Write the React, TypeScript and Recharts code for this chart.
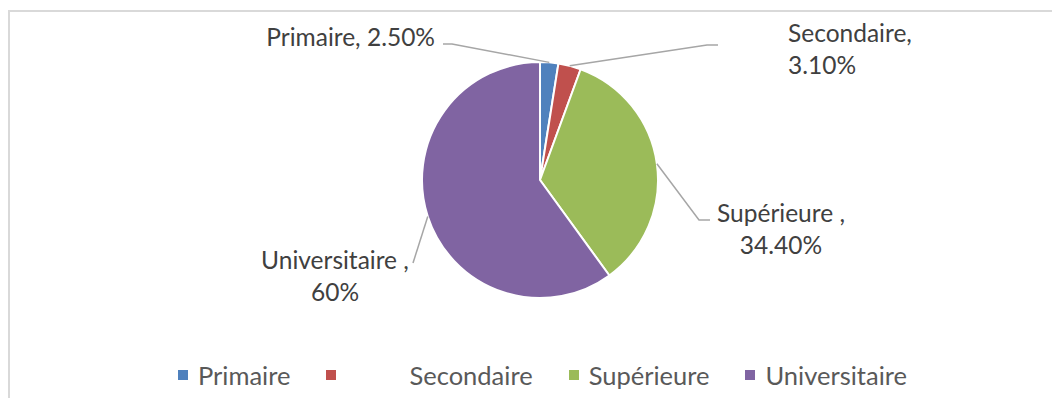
import React from 'react';
import { PieChart, Pie, Cell, Legend } from 'recharts';

const categories = ['Primaire', 'Secondaire', 'Supérieure', 'Universitaire'];
const shares = [2.5, 3.1, 34.4, 60];
const shareLabels = ['2.50%', '3.10%', '34.40%', '60%'];
const colors = ['#4F81BD', '#C0504D', '#9BBB59', '#8064A2'];

const data = categories.map((name, i) => ({ name, value: shares[i] }));

const FONT = 'Lato, "Liberation Sans", sans-serif';
const W = 1048;
const H = 388;
const RAD = Math.PI / 180;
const LINE_H = 31.6;

// where each data label sits (chart coords), Excel-style manual placement
const labelLayout = [
  { elbow: [442, 32], end: [433, 32], x: 425, y: 34, anchor: 'end', lines: (n: string, p: string) => [`${n}, ${p}`] },
  { elbow: [697, 33], end: [708, 33], x: 778, y: 30, anchor: 'start', lines: (n: string, p: string) => [`${n},`, p] },
  { elbow: [689, 208], end: [700, 208], x: 771, y: 210, anchor: 'middle', lines: (n: string, p: string) => [`${n} ,`, p] },
  { elbow: null, end: [403, 251], x: 325, y: 257, anchor: 'middle', lines: (n: string, p: string) => [`${n} ,`, p] },
];

const renderLabel = (props: any) => {
  const { cx, cy, midAngle, outerRadius, index } = props;
  const l = labelLayout[index];
  const sx = cx + outerRadius * Math.cos(-midAngle * RAD);
  const sy = cy + outerRadius * Math.sin(-midAngle * RAD);
  const pts = [[sx, sy], ...(l.elbow ? [l.elbow] : []), l.end];
  const texts = l.lines(categories[index], shareLabels[index]);
  return (
    <g key={`lbl-${index}`}>
      <polyline points={pts.map((p) => p.join(',')).join(' ')} fill="none" stroke="#a6a6a6" strokeWidth={1.5} />
      <text x={l.x} y={l.y} textAnchor={l.anchor} fill="#404040" fontSize={24.5} fontFamily={FONT}>
        {texts.map((t, i) => (
          <tspan key={i} x={l.x} dy={i === 0 ? 0 : LINE_H}>{t}</tspan>
        ))}
      </text>
    </g>
  );
};

const renderLegend = () => (
  <div style={{ display: 'flex', alignItems: 'center', paddingLeft: 168, fontFamily: FONT, fontSize: 25.5, color: '#595959', lineHeight: '30px' }}>
    {categories.map((name, i) => (
      <div key={name} style={{ display: 'flex', alignItems: 'center', marginRight: 36 }}>
        <span style={{ width: 10, height: 10, background: colors[i], marginRight: i === 1 ? 73 : 10, display: 'inline-block' }} />
        <span>{name}</span>
      </div>
    ))}
  </div>
);

export default function App() {
  return (
    <div style={{ position: 'relative', top: 2, width: W, height: H, borderTop: '2px solid #d9d9d9', borderLeft: '2px solid #d9d9d9', background: '#fff' }}>
      <PieChart width={W} height={H} margin={{ top: 0, right: 0, bottom: 0, left: 0 }}>
        <Pie
          data={data}
          dataKey="value"
          nameKey="name"
          cx={530}
          cy={168}
          outerRadius={118}
          startAngle={90}
          endAngle={-270}
          stroke="#ffffff"
          strokeWidth={2}
          label={renderLabel}
          labelLine={false}
          isAnimationActive={false}
        >
          {data.map((d, i) => (
            <Cell key={d.name} fill={colors[i]} />
          ))}
        </Pie>
        <Legend content={renderLegend} wrapperStyle={{ position: 'absolute', left: 0, top: 348, width: W, height: 30 }} />
      </PieChart>
    </div>
  );
}
